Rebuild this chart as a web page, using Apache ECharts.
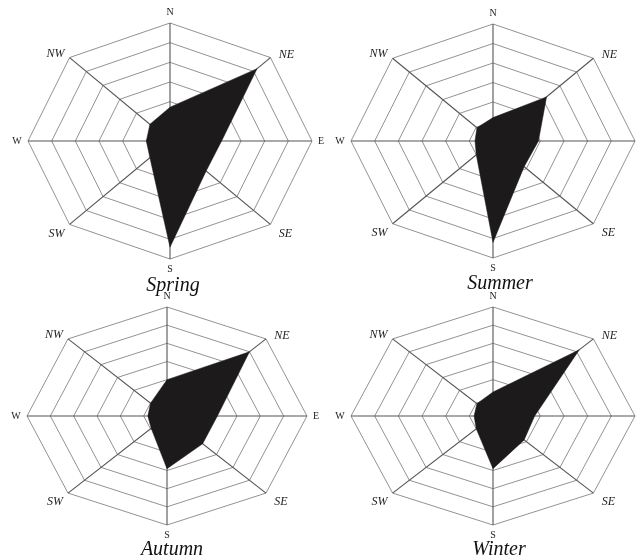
<!DOCTYPE html>
<html><head><meta charset="utf-8">
<script src="https://cdn.jsdelivr.net/npm/echarts@6/dist/echarts.min.js"></script>
<style>html,body{margin:0;padding:0;background:#fff}#c{width:638px;height:557px}</style>
</head><body><div id="c"></div>
<script>
// ---- data ----
const directions = ['N', 'NE', 'E', 'SE', 'S', 'SW', 'W', 'NW'];
const ringLevels = [5, 10, 15, 20, 25, 30];
const seasons = ['Spring', 'Summer', 'Autumn', 'Winter'];
const springValues = [8.6, 26, 10.9, 10.8, 27, 6, 5, 6];
const summerValues = [6, 16, 9.6, 9.3, 26, 5, 3.8, 4.8];
const autumnValues = [10, 25, 10.8, 10.8, 14.5, 4.8, 4.1, 5];
const winterValues = [6.6, 25.8, 8.8, 9.3, 14.5, 5, 4, 4.8];
const seasonValues = [springValues, summerValues, autumnValues, winterValues];
const axisMax = 30;

// ---- layout / style ----
const grids = [
  { left: 28, top: 23, width: 284, height: 236 },
  { left: 351, top: 24, width: 284, height: 234 },
  { left: 27, top: 307, width: 280, height: 218 },
  { left: 351, top: 307, width: 284, height: 218 }
];
const titlePos = [[168, 271], [495, 269], [167, 535], [494, 535]];
const labelOffsets = {
  N: [0, -11], NE: [16, -3], E: [9, 0], SE: [15, 9],
  S: [0, 10], SW: [-13, 9], W: [-11, 0], NW: [-14, -4]
};
const serif = '"Liberation Serif", "DejaVu Serif", serif';

function dirXY(i, v) {
  const b = i * Math.PI / 4;
  return [v * Math.sin(b), v * Math.cos(b)];
}

const option = {
  animation: false,
  backgroundColor: '#fff',
  title: seasons.map((s, k) => ({
    text: s,
    left: titlePos[k][0], top: titlePos[k][1],
    textAlign: 'center',
    textStyle: { fontFamily: serif, fontStyle: 'italic', fontWeight: 'normal', fontSize: 20, color: '#111' }
  })),
  grid: grids.map(g => Object.assign({}, g)),
  xAxis: grids.map((g, k) => ({ type: 'value', gridIndex: k, min: -axisMax, max: axisMax, show: false })),
  yAxis: grids.map((g, k) => ({ type: 'value', gridIndex: k, min: -axisMax, max: axisMax, show: false })),
  series: []
};

seasons.forEach((s, k) => {
  // rings
  option.series.push({
    type: 'custom', name: s + ' rings', coordinateSystem: 'cartesian2d',
    xAxisIndex: k, yAxisIndex: k, silent: true, z: 1,
    data: ringLevels.map(v => [0, 0, v]),
    renderItem: (params, api) => {
      const lvl = api.value(2);
      const pts = directions.map((d, i) => api.coord(dirXY(i, lvl)));
      return { type: 'polygon', shape: { points: pts },
        style: { fill: 'none', stroke: '#939393', lineWidth: 1 } };
    }
  });
  // spokes + labels
  option.series.push({
    type: 'custom', name: s + ' axes', coordinateSystem: 'cartesian2d',
    xAxisIndex: k, yAxisIndex: k, silent: true, z: 2,
    data: directions.map((d, i) => [0, 0, i]),
    renderItem: (params, api) => {
      const i = api.value(2);
      const c = api.coord([0, 0]);
      const e = api.coord(dirXY(i, axisMax));
      const name = directions[i];
      const off = labelOffsets[name];
      const cardinal = name.length === 1;
      return { type: 'group', children: [
        { type: 'line', shape: { x1: c[0], y1: c[1], x2: e[0], y2: e[1] },
          style: { stroke: '#555', lineWidth: 1.1 } },
        { type: 'text', x: e[0] + off[0], y: e[1] + off[1],
          style: { text: name, align: 'center', verticalAlign: 'middle',
            fontFamily: serif, fontSize: cardinal ? 10 : 12,
            fontStyle: cardinal ? 'normal' : 'italic', fill: '#222' } }
      ] };
    }
  });
  // data polygon
  option.series.push({
    type: 'custom', name: s, coordinateSystem: 'cartesian2d',
    xAxisIndex: k, yAxisIndex: k, silent: true, z: 3,
    data: [seasonValues[k]],
    renderItem: (params, api) => {
      const pts = directions.map((d, i) => api.coord(dirXY(i, api.value(i))));
      return { type: 'polygon', shape: { points: pts },
        style: { fill: '#1c1a1a', stroke: '#1c1a1a', lineWidth: 0.5 } };
    }
  });
});

const chart = echarts.init(document.getElementById('c'), null, { renderer: 'canvas' });
chart.setOption(option);
</script>
</body></html>
